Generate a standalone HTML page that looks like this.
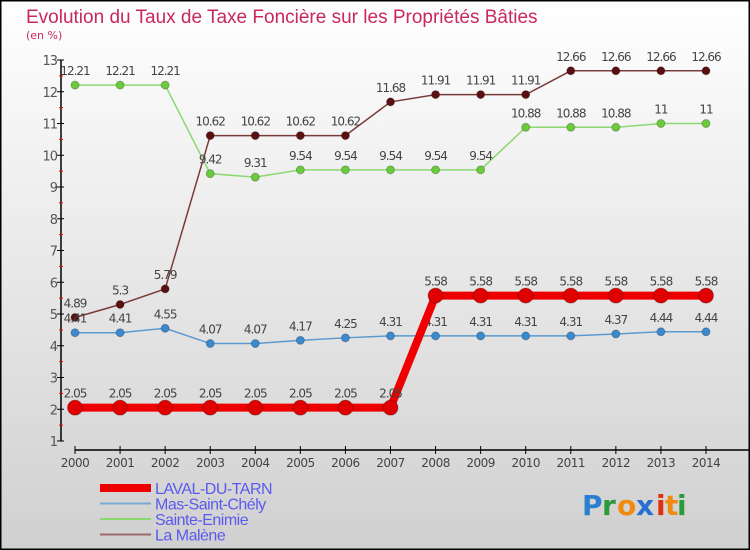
<!DOCTYPE html>
<html><head><meta charset="utf-8"><style>
body{margin:0;}
#c{width:750px;height:550px;position:relative;overflow:hidden;}
svg{display:block;font-family:"DejaVu Sans","Liberation Sans",sans-serif;}
</style></head><body>
<div id="c">
<svg id="s" width="750" height="550" xmlns="http://www.w3.org/2000/svg">
<defs><linearGradient id="bg" x1="0" y1="0" x2="0" y2="1"><stop offset="0" stop-color="#ffffff"/><stop offset="1" stop-color="#d0d0d0"/></linearGradient></defs>
<rect x="0.5" y="0.5" width="749" height="549" fill="url(#bg)" stroke="#000" stroke-width="2"/>
<text x="26" y="23" font-size="19" fill="#c8285a" font-weight="300" style="font-family:'Liberation Sans',sans-serif">Evolution du Taux de Taxe Foncière sur les Propriétés Bâties</text>
<text x="26" y="39" font-size="11" fill="#c8285a">(en %)</text>
<g id="axes"></g><g id="series"></g><g id="legend"></g>
<g font-size="28" font-weight="bold" style="font-family:'DejaVu Sans',sans-serif">
<text x="582" y="515" fill="#2a7fd0">P</text><text x="602" y="515" fill="#2a9a3a">r</text><text x="617" y="515" fill="#f08a10">o</text><text x="636" y="515" fill="#2a6fd0">x</text><text x="656" y="515" fill="#e03010">i</text><text x="665" y="515" fill="#f08a10">t</text><text x="677" y="515" fill="#2a9a3a">i</text>
</g>
</svg></div>
<script>
const years=[2000,2001,2002,2003,2004,2005,2006,2007,2008,2009,2010,2011,2012,2013,2014];
const yTicks=[1,2,3,4,5,6,7,8,9,10,11,12,13];
const laval=[2.05,2.05,2.05,2.05,2.05,2.05,2.05,2.05,5.58,5.58,5.58,5.58,5.58,5.58,5.58];
const mas=[4.41,4.41,4.55,4.07,4.07,4.17,4.25,4.31,4.31,4.31,4.31,4.31,4.37,4.44,4.44];
const sainte=[12.21,12.21,12.21,9.42,9.31,9.54,9.54,9.54,9.54,9.54,10.88,10.88,10.88,11,11];
const malene=[4.89,5.3,5.79,10.62,10.62,10.62,10.62,11.68,11.91,11.91,11.91,12.66,12.66,12.66,12.66];
const seriesNames=["LAVAL-DU-TARN","Mas-Saint-Chély","Sainte-Enimie","La Malène"];
const NS="http://www.w3.org/2000/svg";
const X=i=>75+i*(706-75)/(years.length-1);
const Y=v=>314-(v-5)*31.75;
function mk(t,a,p){const e=document.createElementNS(NS,t);for(const k in a)e.setAttribute(k,a[k]);p.appendChild(e);return e;}
const ax=document.getElementById('axes');
let e=mk('line',{x1:61,y1:Y(13),x2:61,y2:Y(1),stroke:'#000','stroke-width':1.5},ax);


yTicks.forEach(v=>{
 mk('line',{x1:57,x2:64,y1:Y(v),y2:Y(v),stroke:'#000'},ax);
 if(v<13){mk('line',{x1:59,x2:63,y1:Y(v+0.5),y2:Y(v+0.5),stroke:'#f00'},ax);}
 const t=mk('text',{x:57,y:Y(v)+5,'text-anchor':'end','font-size':13,fill:'#555','letter-spacing':'-1'},ax);t.textContent=v;
 
 
});
e=mk('line',{x1:75,y1:450,x2:750,y2:450,stroke:'#000','stroke-width':1.5},ax);


years.forEach((y,i)=>{
 mk('line',{x1:X(i),x2:X(i),y1:446,y2:454,stroke:'#000'},ax);
 const t=mk('text',{x:X(i),y:467,'text-anchor':'middle','font-size':12,fill:'#444','letter-spacing':'-0.5'},ax);t.textContent=y;
 
 
});
const sg=document.getElementById('series');
const defs=[[malene,'#7a3a3a','#5a1010',1.5,4,'series-la-malene'],[sainte,'#8ad870','#6acc3a',1.5,4,'series-sainte-enimie'],[mas,'#5a9ad0','#3a8ad0',1.5,4,'series-mas-saint-chely'],[laval,'#ee0000','#e00000',8,7.5,'series-laval-du-tarn']];
defs.forEach(([d,lc,pc,w,r,n])=>{
 const g=mk('g',{},sg);
 
 
 mk('polyline',{points:d.map((v,i)=>X(i)+','+Y(v)).join(' '),fill:'none',stroke:lc,'stroke-width':w},g);
 d.forEach((v,i)=>{
  const c=mk('circle',{cx:X(i),cy:Y(v),r:r,fill:pc,stroke:'rgba(0,0,0,0.25)'},g);
  
  
  const t=mk('text',{x:X(i),y:Y(v)-10,'text-anchor':'middle','font-size':12,fill:'#444','letter-spacing':'-1'},g);
  t.textContent=String(v);
  
  
 });
});
const lg=document.getElementById('legend');
const lcol=['#ee0000','#7aaad0','#8ad870','#9a6a6a'];const lw=[8,2,2,2];
seriesNames.forEach((n,i)=>{
 const y=493+i*15.5;
 const g=mk('g',{},lg);
 
 
 mk('line',{x1:100,x2:151,y1:y-5,y2:y-5,stroke:lcol[i],'stroke-width':lw[i]},g);
 const t=mk('text',{x:155,y:y+1,'font-size':16,fill:'#5a5af0','letter-spacing':'-0.5'},g);t.textContent=n;
 t.style.fontFamily="'Liberation Sans',sans-serif";
});
</script>
</body></html>
